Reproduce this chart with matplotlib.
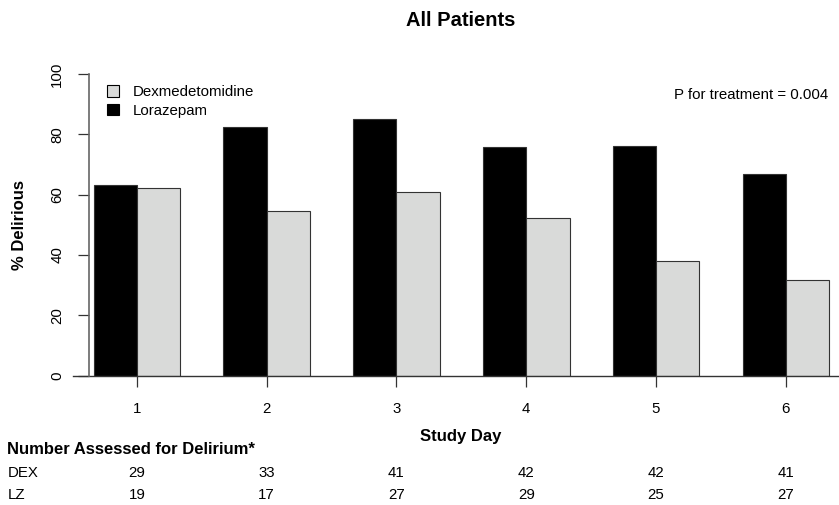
import matplotlib.pyplot as plt
import matplotlib.transforms as mtransforms
from matplotlib.patches import Patch
import numpy as np

plt.rcParams['font.family'] = ['Liberation Sans', 'DejaVu Sans']

# данные по дням
days = ['1', '2', '3', '4', '5', '6']
dex_pct = [62.1, 54.5, 61.0, 52.4, 38.1, 31.7]   # Dexmedetomidine, % с делирием
lz_pct = [63.2, 82.4, 85.2, 75.9, 76.0, 66.7]    # Lorazepam, % с делирием
dex_n = [29, 33, 41, 42, 42, 41]
lz_n = [19, 17, 27, 29, 25, 27]

W, H = 839, 505
fig = plt.figure(figsize=(W / 100, H / 100), dpi=100)

def fx(px):
    return px / W

def fy(py):
    return 1 - py / H

ax = fig.add_axes([fx(73), fy(375.7), fx(839 - 73), (375.7 - 74) / H])

centers = np.arange(len(days)) * 3 + 2  # как barplot(beside=TRUE) в R
ax.bar(centers - 0.5, lz_pct, width=1, color='black', edgecolor='#333333', linewidth=0.8)
ax.bar(centers + 0.5, dex_pct, width=1, color='#d9dad9', edgecolor='#333333', linewidth=0.8)

ax.set_xlim(0.522, 18.23)
ax.set_ylim(0, 100)
ax.axhline(0, color='#333333', lw=1, clip_on=False)

for s in ['top', 'right', 'bottom']:
    ax.spines[s].set_visible(False)
ax.spines['left'].set_position(('data', 0.898))
ax.spines['left'].set_bounds(0, 100)
ax.spines['left'].set_color('#666666')
ax.spines['left'].set_linewidth(1.2)

ax.set_yticks([0, 20, 40, 60, 80, 100])
ax.set_yticklabels(['0', '20', '40', '60', '80', '100'], rotation=90, va='center')
ax.set_xticks(centers)
ax.set_xticklabels(days)
ax.tick_params(axis='y', length=8, width=0.9, color='#333333', labelsize=10.8, pad=10)
ax.tick_params(axis='x', length=8, width=0.9, color='#333333', labelsize=10.8, pad=11)

# подписи
fig.text(fx(461), fy(21), 'All Patients', ha='center', va='center', fontsize=14.5, fontweight='bold')
fig.text(fx(20), fy(225), '% Delirious', ha='center', va='center', rotation=90, fontsize=12, fontweight='bold')
fig.text(fx(461), fy(437), 'Study Day', ha='center', va='center', fontsize=12, fontweight='bold')
fig.text(fx(828), fy(95), 'P for treatment = 0.004', ha='right', va='center', fontsize=10.8)

# легенда
handles = [Patch(facecolor='#d9dad9', edgecolor='black', linewidth=0.8),
           Patch(facecolor='black', edgecolor='black', linewidth=0.8)]
fig.legend(handles, ['Dexmedetomidine', 'Lorazepam'], loc='upper left',
           bbox_to_anchor=(fx(107), fy(85)), frameon=False, fontsize=10.8,
           handlelength=0.8, handleheight=0.8, handletextpad=0.95,
           labelspacing=0.33, borderpad=0, borderaxespad=0)

# таблица с числом оценённых пациентов
tr = mtransforms.blended_transform_factory(ax.transData, fig.transFigure)
fig.text(fx(7), fy(450), 'Number Assessed for Delirium*', ha='left', va='center', fontsize=12, fontweight='bold')
fig.text(fx(8), fy(473), 'DEX', ha='left', va='center', fontsize=10.8)
fig.text(fx(8), fy(495), 'LZ', ha='left', va='center', fontsize=10.8)
for c, d, l in zip(centers, dex_n, lz_n):
    ax.text(c, fy(473), str(d), transform=tr, ha='center', va='center', fontsize=10.8)
    ax.text(c, fy(495), str(l), transform=tr, ha='center', va='center', fontsize=10.8)

fig.savefig('out.png', dpi=100)
